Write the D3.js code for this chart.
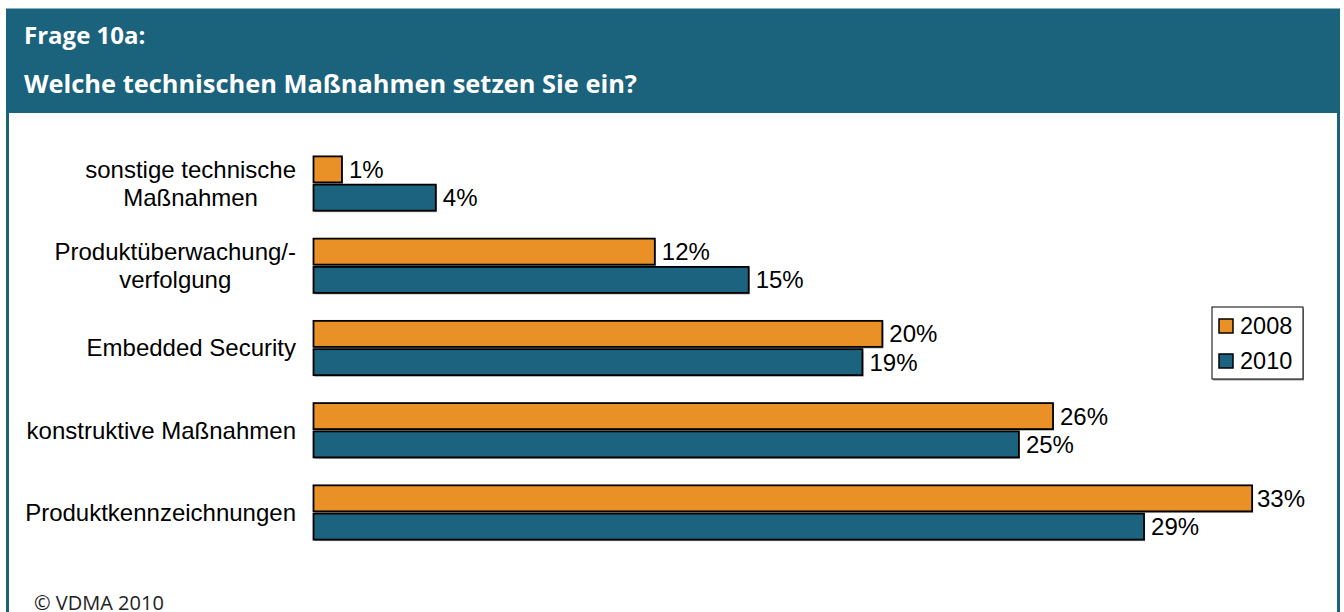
<!DOCTYPE html>
<html>
<head>
<meta charset="utf-8">
<script src="https://cdn.jsdelivr.net/npm/d3@7"></script>
<style>
  html, body { margin: 0; padding: 0; background: #fff; }
  svg { display: block; }
</style>
</head>
<body>
<div id="chart"></div>
<script>
// Data
const categories = [
  "sonstige technische\nMaßnahmen",
  "Produktüberwachung/-\nverfolgung",
  "Embedded Security",
  "konstruktive Maßnahmen",
  "Produktkennzeichnungen"
];
const seriesNames = ["2008", "2010"];
const values2008 = [1.0, 12.0, 20.0, 26.0, 33.0];
const values2010 = [4.3, 15.3, 19.3, 24.8, 29.2];
const seriesColors = ["#E99126", "#1B637E"];

const width = 1344;
const height = 612;
const teal = "#1B637C";
const chartFont = "'Liberation Sans', Arial, sans-serif";
const headFont = "'Open Sans', 'Noto Sans', sans-serif";
const fontSize = "24px";

const rows = categories.map((c, i) => ({
  category: c,
  "2008": values2008[i],
  "2010": values2010[i]
}));

const svg = d3.select("#chart").append("svg")
  .attr("width", width)
  .attr("height", height);

// Frame and header band
svg.append("rect")
  .attr("x", 7.5).attr("y", 10)
  .attr("width", 1331).attr("height", 640)
  .attr("fill", "none")
  .attr("stroke", teal)
  .attr("stroke-width", 3);

svg.append("rect")
  .attr("x", 6).attr("y", 10)
  .attr("width", 1334).attr("height", 103)
  .attr("fill", teal);

svg.append("text")
  .attr("x", 24).attr("y", 44)
  .attr("fill", "#fff")
  .style("font-family", headFont)
  .style("font-weight", "bold")
  .style("font-size", "24px")
  .text("Frage 10a:");

svg.append("text")
  .attr("x", 24).attr("y", 93)
  .attr("fill", "#fff")
  .style("font-family", headFont)
  .style("font-weight", "bold")
  .style("font-size", "25.4px")
  .text("Welche technischen Maßnahmen setzen Sie ein?");

// Scales
const x = d3.scaleLinear()
  .domain([0, 35])
  .range([313.5, 1309]);

const y = d3.scaleBand()
  .domain(categories)
  .range([142.4, 553.6])
  .paddingInner(0.34)
  .paddingOuter(0.17);

const ySub = d3.scaleBand()
  .domain(seriesNames)
  .range([0, y.bandwidth()])
  .paddingInner(0.08);

const color = d3.scaleOrdinal()
  .domain(seriesNames)
  .range(seriesColors);

// Category labels (multi-line, centred block, right aligned to the axis)
const labelRight = 296;
const catG = svg.append("g")
  .style("font-family", chartFont)
  .style("font-size", fontSize)
  .attr("fill", "#000");

categories.forEach(c => {
  const lines = c.split("\n");
  const cy = y(c) + y.bandwidth() / 2;
  const t = catG.append("text").attr("text-anchor", "middle");
  lines.forEach((ln, i) => {
    t.append("tspan")
      .attr("x", 0)
      .attr("y", cy + (i - (lines.length - 1) / 2) * 28)
      .attr("dy", "0.35em")
      .text(ln);
  });
  // centre the block so its longest line ends at labelRight
  const w = t.node().getBBox().width;
  t.selectAll("tspan").attr("x", labelRight - w / 2);
});

// Bars
const groups = svg.append("g")
  .selectAll("g")
  .data(rows)
  .join("g")
  .attr("transform", d => `translate(0,${y(d.category)})`);

const cells = groups.selectAll("g")
  .data(d => seriesNames.map(k => ({ key: k, value: d[k] })))
  .join("g");

// soft shadow under each bar
cells.append("rect")
  .attr("x", x(0) + 1)
  .attr("y", d => ySub(d.key) + 1.5)
  .attr("width", d => x(d.value) - x(0))
  .attr("height", ySub.bandwidth())
  .attr("fill", "#9a9a9a");

cells.append("rect")
  .attr("x", x(0))
  .attr("y", d => ySub(d.key))
  .attr("width", d => x(d.value) - x(0))
  .attr("height", ySub.bandwidth())
  .attr("fill", d => color(d.key))
  .attr("stroke", "#000")
  .attr("stroke-width", 1.8);

// value labels, kept inside the plot area on the right
const plotRight = 1305;
cells.append("text")
  .attr("x", d => x(d.value) + 7)
  .attr("y", d => ySub(d.key) + ySub.bandwidth() / 2)
  .attr("dy", "0.35em")
  .style("font-family", chartFont)
  .style("font-size", fontSize)
  .attr("fill", "#000")
  .text(d => Math.round(d.value) + "%")
  .each(function () {
    const w = this.getComputedTextLength();
    const x0 = +this.getAttribute("x");
    if (x0 + w > plotRight) d3.select(this).attr("x", plotRight - w);
  });

// Legend
const legend = svg.append("g")
  .attr("transform", "translate(1212,307)");

legend.append("rect")
  .attr("x", 1).attr("y", 1.5)
  .attr("width", 91).attr("height", 72)
  .attr("fill", "#9a9a9a");

legend.append("rect")
  .attr("width", 91).attr("height", 72)
  .attr("fill", "#fff")
  .attr("stroke", "#000")
  .attr("stroke-width", 1);

seriesNames.forEach((s, i) => {
  const row = legend.append("g")
    .attr("transform", `translate(7,${12 + i * 35})`);
  row.append("rect")
    .attr("width", 14).attr("height", 14)
    .attr("fill", color(s))
    .attr("stroke", "#000")
    .attr("stroke-width", 1.5);
  row.append("text")
    .attr("x", 21).attr("y", 7)
    .attr("dy", "0.35em")
    .style("font-family", chartFont)
    .style("font-size", "23.5px")
    .text(s);
});

// Footer
svg.append("text")
  .attr("x", 34).attr("y", 610)
  .attr("fill", "#222")
  .style("font-family", headFont)
  .style("font-size", "20px")
  .text("© VDMA 2010");
</script>
</body>
</html>
